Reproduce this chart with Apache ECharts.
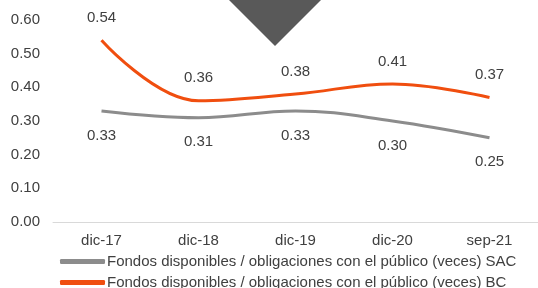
<!DOCTYPE html>
<html><head><meta charset="utf-8">
<script src="https://cdn.jsdelivr.net/npm/echarts@6/dist/echarts.min.js"></script>
<style>html,body{margin:0;padding:0;background:#fff}#c{width:538px;height:288px}</style>
</head><body><div id="c"></div>
<script>
const categories = ['dic-17','dic-18','dic-19','dic-20','sep-21'];
const sacValues = [0.33, 0.31, 0.33, 0.30, 0.25];
const bcValues = [0.54, 0.36, 0.38, 0.41, 0.37];
const seriesNames = ['Fondos disponibles / obligaciones con el público (veces) SAC','Fondos disponibles / obligaciones con el público (veces) BC'];
const yTicks = {min: 0, max: 0.6, interval: 0.1};

const chart = echarts.init(document.getElementById('c'));
const font = 'Liberation Sans, Arial, sans-serif';
const fs = 15;
const legendBase = {left: 55, itemWidth: 45, itemHeight: 5, icon: 'roundRect',
  textStyle: {color: '#404040', fontSize: fs, fontFamily: font, padding: [0,0,0,-3]}};
chart.setOption({
  animation: false,
  grid: {left: 53, top: 20, width: 490, height: 202},
  xAxis: {type: 'category', data: categories, boundaryGap: true,
    axisLine: {lineStyle: {color: '#d9d9d9', width: 1}}, axisTick: {show: false},
    axisLabel: {color: '#404040', fontSize: fs, fontFamily: font, margin: 11}},
  yAxis: {type: 'value', min: yTicks.min, max: yTicks.max, interval: yTicks.interval,
    splitLine: {show: false}, axisLine: {show: false}, axisTick: {show: false},
    axisLabel: {color: '#404040', fontSize: fs, fontFamily: font, margin: 13, formatter: v => v.toFixed(2)}},
  legend: [
    Object.assign({}, legendBase, {top: 249, data: [{name: seriesNames[0], itemStyle: {color: '#8c8c8c'}}]}),
    Object.assign({}, legendBase, {top: 270, data: [{name: seriesNames[1], itemStyle: {color: '#f04e0f'}}]})
  ],
  graphic: [{type: 'polygon', shape: {points: [[229,0],[321,0],[275,46]]}, style: {fill: '#595959'}, z: 10}],
  series: [
    {name: seriesNames[0], type: 'line', data: sacValues, smooth: 0.4, symbol: 'circle', symbolSize: 0,
      showAllSymbol: true,
      itemStyle: {color: '#8c8c8c'},
      lineStyle: {color: '#8c8c8c', width: 3},
      label: {show: true, position: 'bottom', distance: 17, color: '#404040', fontSize: fs, fontFamily: font, formatter: p => p.value.toFixed(2)}},
    {name: seriesNames[1], type: 'line', data: bcValues, smooth: 0.4, symbol: 'circle', symbolSize: 0,
      showAllSymbol: true,
      itemStyle: {color: '#f04e0f'},
      lineStyle: {color: '#f04e0f', width: 3},
      label: {show: true, position: 'top', distance: 15, color: '#404040', fontSize: fs, fontFamily: font, formatter: p => p.value.toFixed(2)}}
  ]
});
</script></body></html>
